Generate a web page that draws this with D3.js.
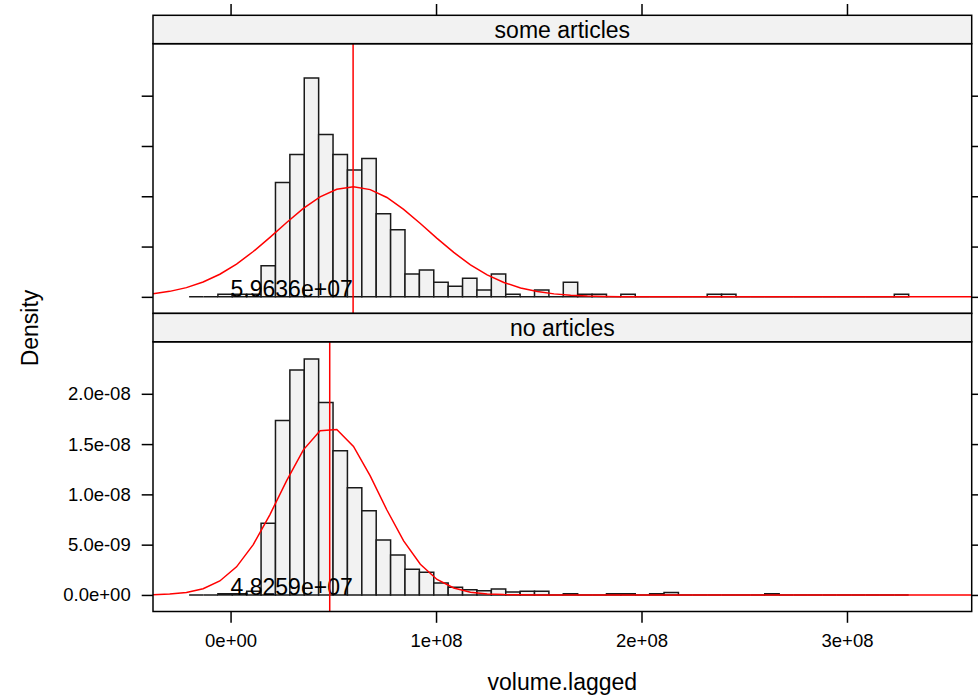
<!DOCTYPE html>
<html>
<head>
<meta charset="utf-8">
<script src="https://cdn.jsdelivr.net/npm/d3@7"></script>
<style>
body{margin:0;background:#fff;}
text{font-family:"Liberation Sans",Arial,Helvetica,sans-serif;fill:#000;}
</style>
</head>
<body>
<svg id="chart" width="978" height="696"></svg>
<script>
// ---------------------------------------------- DATA ---------------------------------------------------
var panelNames = ["some articles", "no articles"];
var panelMeans = [5.9636e7, 4.8259e7];
var meanLabels = ["5.9636e+07", "4.8259e+07"];

// histogram breaks (50 equal bins)
var breakStart = -2.017e7;
var binWidth = 7.004e6;

// bar densities, in units of 1e-8
var densitySome = [0, 0, 0.027, 0.027, 0.027, 0.31, 1.137, 1.416, 2.176, 1.615,
	1.416, 1.26, 1.376, 0.826, 0.667, 0.226, 0.266, 0.146, 0.106, 0.186,
	0.067, 0.226, 0.027, 0, 0.067, 0, 0.146, 0.027, 0.027, 0,
	0.027, 0, 0, 0, 0, 0, 0.027, 0.027, 0, 0,
	0, 0, 0, 0, 0, 0, 0, 0, 0, 0.027];
var densityNone = [0, 0, 0.012, 0.012, 0.036, 0.713, 1.734, 2.236, 2.345, 1.913,
	1.433, 1.065, 0.836, 0.547, 0.398, 0.255, 0.226, 0.118, 0.077, 0.052,
	0.042, 0.06, 0.03, 0.036, 0.036, 0, 0.012, 0, 0, 0.012,
	0.012, 0, 0.012, 0.024, 0, 0, 0, 0, 0, 0,
	0.012, 0, 0, 0, 0, 0, 0, 0, 0, 0];

// red density curve, 50 points across the panel, units of 1e-8
var curveSome = [0.0308, 0.0545, 0.0918, 0.1473, 0.2247, 0.3263, 0.4505, 0.5918, 0.7395, 0.8792,
	0.9944, 1.0699, 1.0951, 1.0663, 0.9877, 0.8704, 0.7296, 0.5819, 0.4415, 0.3187,
	0.2188, 0.1429, 0.0888, 0.0525, 0.0295, 0.0158, 0.0080, 0.0039, 0.0018, 0.0008,
	0.0003, 0.0001, 0, 0, 0, 0, 0, 0, 0, 0,
	0, 0, 0, 0, 0, 0, 0, 0, 0, 0];
var curveNone = [0.0027, 0.0086, 0.0244, 0.0617, 0.1391, 0.2795, 0.5007, 0.7994, 1.1374, 1.4430,
	1.6317, 1.6446, 1.4775, 1.1834, 0.8447, 0.5375, 0.3048, 0.1541, 0.0695, 0.0279,
	0.0100, 0.0032, 0.0009, 0.0002, 0, 0, 0, 0, 0, 0,
	0, 0, 0, 0, 0, 0, 0, 0, 0, 0,
	0, 0, 0, 0, 0, 0, 0, 0, 0, 0];

var xTicks = [0, 1e8, 2e8, 3e8];
var xTickLabels = ["0e+00", "1e+08", "2e+08", "3e+08"];
var yTicks = [0, 5e-9, 1e-8, 1.5e-8, 2e-8];
var yTickLabels = ["0.0e+00", "5.0e-09", "1.0e-08", "1.5e-08", "2.0e-08"];

var xLimits = [-3.775e7, 3.607e8];
var yLimits = [-1.646e-9, 2.517e-8];
var DENSITY_UNIT = 1e-8;

// ---------------------------------------------- LAYOUT -------------------------------------------------
var PANEL_X0 = 153, PANEL_X1 = 971.7;
var LAYOUT_TOP = 15.3;
var STRIP_H = 28.4;
var PANEL_H = 269.7;
var TICK_LEN = 11.3;
var FONT_LABEL = "23px";
var FONT_TICK = "18.5px";
var GREY = "#f2f2f2";
var LW = 1.5;

var svg = d3.select("#chart");
var x = d3.scaleLinear().domain(xLimits).range([PANEL_X0, PANEL_X1]);

drawPanel(0, panelNames[0], densitySome, curveSome, panelMeans[0], meanLabels[0]);
drawPanel(1, panelNames[1], densityNone, curveNone, panelMeans[1], meanLabels[1]);
drawLabels();

/**
 * one lattice panel: strip on top, bars, density curve, mean line
 */
function drawPanel(row, name, dens, curve, mean, label){
	var _stripTop = LAYOUT_TOP + row*(STRIP_H+PANEL_H);
	var _top = _stripTop + STRIP_H;
	var _bottom = _top + PANEL_H;
	var y = d3.scaleLinear().domain(yLimits).range([_bottom, _top]);
	var g = svg.append("g").attr("id", "panel_"+row);

	g.append("clipPath").attr("id", "clip_"+row)
		.append("rect")
		.attr("x", PANEL_X0).attr("y", _top)
		.attr("width", PANEL_X1-PANEL_X0).attr("height", PANEL_H);

	// bars - paths so that empty bins still show as a flat line
	g.selectAll("path.bar")
		.data(dens)
		.enter()
		.append("path")
		.attr("class", "bar")
		.attr("d", function(d, i){
			var _x0 = x(breakStart + i*binWidth);
			var _x1 = x(breakStart + (i+1)*binWidth);
			var _y0 = y(0), _y1 = y(d*DENSITY_UNIT);
			return "M"+_x0+","+_y0+"V"+_y1+"H"+_x1+"V"+_y0+"Z";
		})
		.style("fill", GREY)
		.style("stroke", "#1a1a1a")
		.style("stroke-width", LW);

	// mean value text
	g.append("text")
		.text(label)
		.attr("x", x(0))
		.attr("y", y(0))
		.style("font-size", FONT_LABEL)
		.style("text-anchor", "start");

	// density curve over the full panel range
	var _step = (xLimits[1]-xLimits[0])/(curve.length-1);
	var line = d3.line()
		.x(function(d, i){ return x(xLimits[0] + i*_step); })
		.y(function(d){ return y(d*DENSITY_UNIT); });
	g.append("path")
		.datum(curve)
		.attr("d", line)
		.attr("clip-path", "url(#clip_"+row+")")
		.style("fill", "none")
		.style("stroke", "#ff0000")
		.style("stroke-width", LW);

	g.append("line")
		.attr("x1", x(mean)).attr("x2", x(mean))
		.attr("y1", _top).attr("y2", _bottom)
		.style("stroke", "#ff0000")
		.style("stroke-width", LW);

	// strip
	g.append("rect")
		.attr("x", PANEL_X0).attr("y", _stripTop)
		.attr("width", PANEL_X1-PANEL_X0).attr("height", STRIP_H)
		.style("fill", GREY)
		.style("stroke", "#000")
		.style("stroke-width", LW);
	g.append("text")
		.text(name)
		.attr("x", (PANEL_X0+PANEL_X1)/2)
		.attr("y", _stripTop + STRIP_H/2)
		.attr("dy", "0.36em")
		.style("font-size", FONT_LABEL)
		.style("text-anchor", "middle");

	// panel border
	g.append("rect")
		.attr("x", PANEL_X0).attr("y", _top)
		.attr("width", PANEL_X1-PANEL_X0).attr("height", PANEL_H)
		.style("fill", "none")
		.style("stroke", "#000")
		.style("stroke-width", LW);

	// axes: labels alternate, left for bottom row, right for top row (cut off)
	var _showLeft = (row == 1);
	_drawAxis(g, d3.axisLeft(y).tickValues(yTicks)
		.tickFormat(function(d, i){ return _showLeft ? yTickLabels[i] : ""; }), PANEL_X0, 0);
	_drawAxis(g, d3.axisRight(y).tickValues(yTicks).tickFormat(""), PANEL_X1, 0);
	if (row == 0){
		_drawAxis(g, d3.axisTop(x).tickValues(xTicks).tickFormat(""), 0, _stripTop);
	} else {
		_drawAxis(g, d3.axisBottom(x).tickValues(xTicks)
			.tickFormat(function(d, i){ return xTickLabels[i]; }), 0, _bottom);
	}
}

function _drawAxis(g, axis, tx, ty){
	var a = g.append("g")
		.attr("transform", "translate("+tx+","+ty+")")
		.call(axis.tickSize(TICK_LEN).tickPadding(11));
	a.select(".domain").remove();
	a.selectAll(".tick line").style("stroke", "#000").style("stroke-width", LW);
	a.selectAll(".tick text")
		.style("font-size", FONT_TICK)
		.style("font-family", "'Liberation Sans',Arial,Helvetica,sans-serif")
		.style("fill", "#000");
}

function drawLabels(){
	svg.append("text")
		.text("volume.lagged")
		.attr("x", (PANEL_X0+PANEL_X1)/2)
		.attr("y", 690)
		.style("font-size", FONT_LABEL)
		.style("text-anchor", "middle");
	svg.append("text")
		.text("Density")
		.attr("transform", "translate(38,328) rotate(-90)")
		.style("font-size", FONT_LABEL)
		.style("text-anchor", "middle");
}
</script>
</body>
</html>
